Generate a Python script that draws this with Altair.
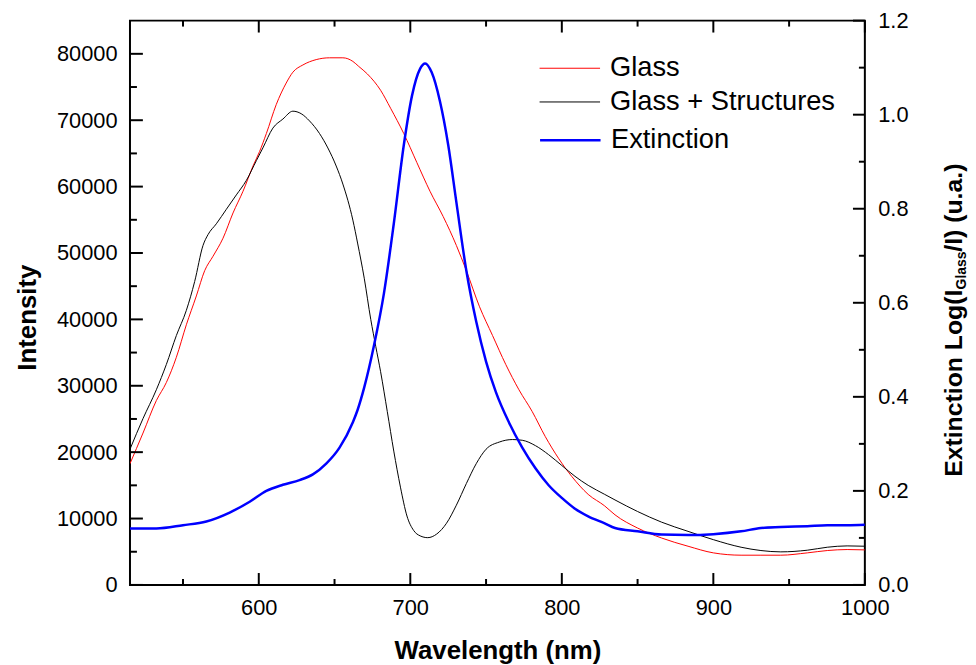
import altair as alt
import pandas as pd

# ---------------- data ----------------
glass_wl = [515, 523.6, 532.4, 539, 545.6, 552.2, 558.8, 564.3, 569.8, 576.4, 583, 589.6,
            596.2, 600.5, 605, 611.5, 618.1, 622.5, 629.1, 637.9, 646.7, 655.5, 662.1, 666,
            671.7, 680.4, 687, 695.7, 704.3, 713, 721.7, 730.4, 737, 745.7, 754.3, 763,
            771.7, 780.4, 789.1, 797.8, 806.5, 817.4, 828.3, 835.1, 850, 865.8, 883.3,
            900, 918.3, 931.4, 944.5, 962, 975.2, 988.3, 1000]
glass_int = [18260, 22880, 27770, 30490, 34290, 39190, 43530, 47340, 49510, 52230, 56030, 59300,
             63100, 65270, 67990, 72340, 75600, 77230, 78320, 79130, 79400, 79400, 78860, 78100,
             76960, 74510, 71800, 67990, 63640, 59300, 55490, 51140, 47340, 41900, 37560, 33210,
             29400, 26140, 22340, 19080, 16360, 13640, 11900, 10560, 8570, 7070, 5830,
             4830, 4480, 4480, 4480, 4830, 5180, 5330, 5280]

struct_wl = [515, 523.6, 532.4, 539, 545.6, 552.2, 557.7, 563.2, 566.5, 572, 578.6, 585.2,
             591.8, 598.4, 602.7, 609.3, 615.9, 622.5, 628, 633.5, 640.1, 645.6, 651.1, 655.5,
             662.1, 665.2, 669.6, 673.9, 677.2, 680.4, 684.8, 689.1, 693.5, 697.8, 702.2,
             706.5, 711.5, 717.4, 723.9, 730.4, 737, 743.5, 750, 758.7, 767.4, 773.9, 782.6,
             791.3, 800, 808.7, 817.4, 828.3, 835.1, 850, 865.8, 883.3, 900, 918.3, 931.4,
             944.5, 962, 975.2, 988.3, 1000]
struct_int = [20440, 25060, 29400, 33210, 37560, 41360, 45710, 51140, 52770, 54400, 56580, 58750,
              60930, 63910, 65820, 68810, 70170, 71360, 70980, 69890, 67990, 65820, 63100, 60380,
              54950, 51500, 46200, 40000, 35930, 32120, 26140, 20160, 14730, 10380, 8210,
              7390, 7120, 7660, 9290, 12010, 15270, 18260, 20440, 21520, 21900, 21790, 20980,
              19620, 17990, 16360, 15000, 13640, 12800, 11060, 9460, 8070, 6820, 5680, 5180,
              4980, 5230, 5680, 5880, 5830]

ext_wl = [515, 532.4, 550, 565.4, 580.8, 594, 605, 615.9, 626.9, 635.7, 644.5, 653.3, 662.1,
          665.2, 669.6, 676.1, 682.6, 689.1, 695.7, 701.1, 706.5, 709.8, 714.1, 719.6, 725,
          730.4, 737, 743.5, 750, 756.5, 765.2, 773.9, 782.6, 791.3, 800, 808.7, 817.4,
          828.3, 835.1, 850, 865.8, 883.3, 900, 918.3, 931.4, 944.5, 962, 975.2, 988.3, 1000]
ext_val = [0.120, 0.120, 0.127, 0.135, 0.154, 0.177, 0.200, 0.213, 0.223, 0.235, 0.258, 0.292, 0.346,
           0.372, 0.420, 0.510, 0.620, 0.768, 0.935, 1.040, 1.098, 1.109, 1.090, 1.028, 0.936,
           0.814, 0.668, 0.560, 0.475, 0.410, 0.345, 0.292, 0.248, 0.212, 0.185, 0.162, 0.146,
           0.131, 0.121, 0.114, 0.107, 0.106, 0.108, 0.114, 0.121, 0.123, 0.125, 0.127, 0.127, 0.128]

left_series = ["Glass", "Glass + Structures"]
left_colors = ["#ff0000", "#000000"]
right_series = ["Extinction"]
right_colors = ["#0000ff"]

x_major = [600, 700, 800, 900, 1000]
x_minor = [550, 650, 750, 850, 950]
yl_major = [0, 10000, 20000, 30000, 40000, 50000, 60000, 70000, 80000]
yl_minor = [5000, 15000, 25000, 35000, 45000, 55000, 65000, 75000]
yr_major = [0.0, 0.2, 0.4, 0.6, 0.8, 1.0, 1.2]
yr_minor = [0.1, 0.3, 0.5, 0.7, 0.9, 1.1]

x_title = "Wavelength (nm)"
yl_title = "Intensity"
yr_title_pieces = ["Extinction Log(I", "Glass", "/I) (u.a.)"]

# ---------------- chart ----------------
W, H = 741, 569
FONT = "Liberation Sans"

left_df = pd.concat([
    pd.DataFrame({"wl": glass_wl, "val": glass_int, "series": left_series[0]}),
    pd.DataFrame({"wl": struct_wl, "val": struct_int, "series": left_series[1]}),
])
right_df = pd.DataFrame({"wl": ext_wl, "val": ext_val, "series": right_series[0]})

xscale = alt.Scale(domain=[515, 1000], nice=False, zero=False)
ylscale = alt.Scale(domain=[0, 85000], nice=False, zero=False)
yrscale = alt.Scale(domain=[0, 1.2], nice=False, zero=False)

xaxis = alt.Axis(orient="bottom", values=x_major, format="d", labelFlush=False,
                 labelPadding=13, title=x_title, titleFontSize=26, titleFontWeight="bold",
                 titleFont=FONT, titleX=W / 2, titleY=74, titleAlign="center",
                 titleBaseline="alphabetic")
ylaxis = alt.Axis(orient="left", values=yl_major, format="d", labelPadding=13,
                  title=yl_title, titleFontSize=26, titleFontWeight="bold", titleFont=FONT,
                  titleX=-95, titleY=299, titleAngle=270, titleAlign="center",
                  titleBaseline="alphabetic")
yraxis = alt.Axis(orient="right", values=yr_major, format=".1f", labelPadding=13, title="")

legend_common = dict(title=None, orient="none", symbolType="M-2,0H2", symbolSize=930,
                     labelFontSize=27.5, labelFont=FONT, labelColor="black",
                     labelOffset=24.5, padding=0, labelLimit=500)

left_lines = alt.Chart(left_df).mark_line(strokeWidth=1, clip=True, interpolate="monotone").encode(
    x=alt.X("wl:Q", scale=xscale, axis=xaxis, title=x_title),
    y=alt.Y("val:Q", scale=ylscale, axis=ylaxis, title=yl_title),
    color=alt.Color("series:N", scale=alt.Scale(domain=left_series, range=left_colors),
                    legend=alt.Legend(legendX=427.5, legendY=32, symbolStrokeWidth=1,
                                      rowPadding=4, **legend_common)),
)


def xticks(vals, y0, y1):
    return alt.Chart(pd.DataFrame({"wl": vals})).mark_rule(color="black", strokeWidth=2).encode(
        x=alt.X("wl:Q", scale=xscale, axis=xaxis, title=x_title),
        y=alt.value(y0), y2=alt.value(y1))


def lticks(vals, length):
    return alt.Chart(pd.DataFrame({"val": vals})).mark_rule(color="black", strokeWidth=2).encode(
        y=alt.Y("val:Q", scale=ylscale, axis=ylaxis, title=yl_title),
        x=alt.value(0), x2=alt.value(length))


def rticks(vals, length):
    return alt.Chart(pd.DataFrame({"val": vals})).mark_rule(color="black", strokeWidth=2).encode(
        y=alt.Y("val:Q", scale=yrscale, axis=yraxis, title=""),
        x=alt.value(W - length), x2=alt.value(W))


left = alt.layer(
    left_lines,
    xticks(x_major, H, H - 12), xticks(x_minor, H, H - 6),
    xticks(x_major, 0, 12), xticks(x_minor, 0, 6),
    lticks(yl_major, 13), lticks(yl_minor, 7),
)

blue = alt.Chart(right_df).mark_line(strokeWidth=2.5, clip=True, interpolate="monotone").encode(
    x=alt.X("wl:Q", scale=xscale, axis=xaxis, title=x_title),
    y=alt.Y("val:Q", scale=yrscale, axis=yraxis, title=""),
    color=alt.Color("series:N", scale=alt.Scale(domain=right_series, range=right_colors),
                    legend=alt.Legend(legendX=427.5, legendY=104, symbolStrokeWidth=2.5,
                                      **legend_common)),
)


def title_piece(txt, size, xpos, ypos):
    return alt.Chart(pd.DataFrame({"label": [txt]})).mark_text(
        angle=270, align="left", baseline="alphabetic", font=FONT, fontSize=size,
        fontWeight="bold", color="black"
    ).encode(text="label:N", x=alt.value(xpos), y=alt.value(ypos))


right = alt.layer(
    blue,
    rticks(yr_major, 12), rticks(yr_minor, 6),
    title_piece(yr_title_pieces[0], 25, 839, 460),
    title_piece(yr_title_pieces[1], 14, 843, 460 - 189),
    title_piece(yr_title_pieces[2], 25, 839, 460 - 189 - 38),
)

chart = alt.layer(left, right).resolve_scale(y="independent", color="independent").properties(
    width=W, height=H,
    autosize=alt.AutoSizeParams(type="none"),
    padding={"left": 123, "top": 10, "right": 104, "bottom": 78},
).configure_view(
    stroke="black", strokeWidth=2
).configure_axis(
    labelFont=FONT, labelFontSize=22, labelColor="black", grid=False, ticks=False,
    domain=False, titleColor="black"
)

chart.save("out.html", embed_options={"renderer": "svg", "actions": False})
